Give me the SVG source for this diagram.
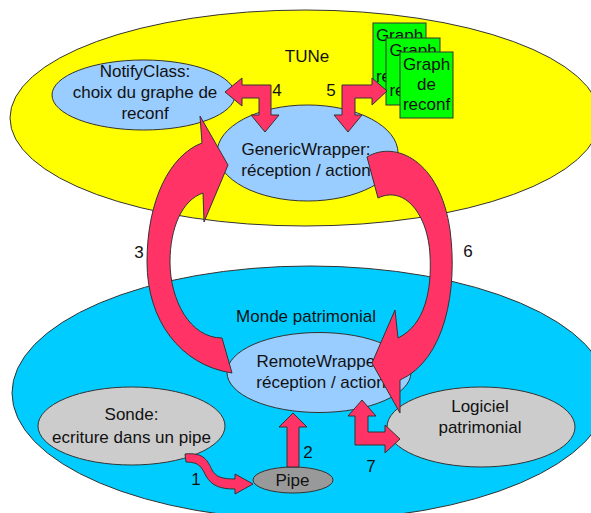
<svg xmlns="http://www.w3.org/2000/svg" width="591" height="513" viewBox="0 0 591 513">
<style>
text{font-family:"Liberation Sans",Arial,sans-serif;font-size:17px;fill:#111;text-anchor:middle}
.ln{stroke:#333;stroke-width:1}
.arrow{fill:#ff3366;stroke:#333;stroke-width:1;stroke-linejoin:miter}
.blue{fill:#99ccff}
.gray{fill:#cccccc}
.box{fill:#00ff00;stroke:#333;stroke-width:1}
</style>
<rect width="591" height="513" fill="#fff"/>
<g id="tune">
<ellipse class="ln" cx="305" cy="118" rx="295" ry="108" fill="#ffff00"/>
<text x="307" y="62">TUNe</text>
</g>
<g id="monde">
<ellipse class="ln" cx="310" cy="393" rx="298" ry="127" fill="#00ccff"/>
<text x="306" y="322">Monde patrimonial</text>
</g>
<g id="notify">
<ellipse class="ln blue" cx="143.5" cy="95" rx="91.5" ry="35"/>
<text x="145" y="77">NotifyClass:</text>
<text x="145" y="98">choix du graphe de</text>
<text x="145" y="119">reconf</text>
</g>
<g id="generic">
<ellipse class="ln blue" cx="307.5" cy="153" rx="90.5" ry="48"/>
<text x="306" y="155">GenericWrapper:</text>
<text x="306" y="176">réception / action</text>
</g>
<g id="graph1">
<rect class="box" x="373" y="23" width="53" height="67"/>
<text x="399.5" y="41">Graph</text>
<text x="399.5" y="61">de</text>
<text x="399.5" y="82">reconf</text>
</g>
<g id="graph2">
<rect class="box" x="386" y="38" width="54" height="67"/>
<text x="413" y="56">Graph</text>
<text x="413" y="76">de</text>
<text x="413" y="96">reconf</text>
</g>
<g id="graph3">
<rect class="box" x="400" y="52" width="53" height="66"/>
<text x="426.5" y="70">Graph</text>
<text x="426.5" y="90">de</text>
<text x="426.5" y="110">reconf</text>
</g>
<g id="remote">
<ellipse class="ln blue" cx="319" cy="372.5" rx="92" ry="40"/>
<text x="321" y="367">RemoteWrapper:</text>
<text x="321" y="388">réception / action</text>
</g>
<g id="sonde">
<ellipse class="ln gray" cx="131.5" cy="426" rx="93.5" ry="39"/>
<text x="131.5" y="420">Sonde:</text>
<text x="131.5" y="443">ecriture dans un pipe</text>
</g>
<g id="logiciel">
<ellipse class="ln gray" cx="481" cy="427" rx="94" ry="40"/>
<text x="480" y="412">Logiciel</text>
<text x="480" y="433">patrimonial</text>
</g>
<g id="pipe">
<ellipse class="ln" cx="293" cy="480" rx="40" ry="13" fill="#999999"/>
<text x="292.5" y="486">Pipe</text>
</g>
<g id="connectors">
<path class="arrow" d="M225,92 L242,78 L242,85 L271,85 L271,115 L279,115 L265,132 L251,115 L259,115 L259,98 L242,98 L242,106 Z"/>
<path class="arrow" d="M387,91 L372,78 L372,85 L342,85 L342,115 L334,115 L348,132 L362,115 L355,115 L355,98 L372,98 L372,105 Z"/>
<path class="arrow" d="M200,116 L228,165 L204,222 L203,193 C182,200 170,228 170,262 C170,300 190,338 222,338 L232,373 C180,365 147,320 147,262 C147,200 170,155 202,143 Z"/>
<path class="arrow" d="M367,157 C395,140 440,160 450,230 C458,290 445,360 400,380 L400,413 L372,363 L395,310 L398,338 C425,325 432,290 430,255 C428,215 405,185 378,198 Z"/>
<path class="arrow" d="M293,413 L307,427 L299,427 L299,467 L287,467 L287,427 L279,427 Z"/>
<path class="arrow" d="M362,400 L376,416 L368,416 L368,432 L385,432 L385,425 L400,439 L385,453 L385,445 L355,445 L355,416 L348,416 Z"/>
<path class="arrow" d="M185,454 C205,452 208,462 212,470 C216,477 222,479 235,479 L235,474 L253,484 L235,494 L235,489 C220,489 212,486 206,476 C202,468 200,462 186,462 Z"/>
<text x="196" y="485">1</text>
<text x="308" y="458">2</text>
<text x="139" y="258">3</text>
<text x="277" y="96">4</text>
<text x="331" y="96">5</text>
<text x="468" y="257">6</text>
<text x="371" y="472">7</text>
</g>
</svg>
